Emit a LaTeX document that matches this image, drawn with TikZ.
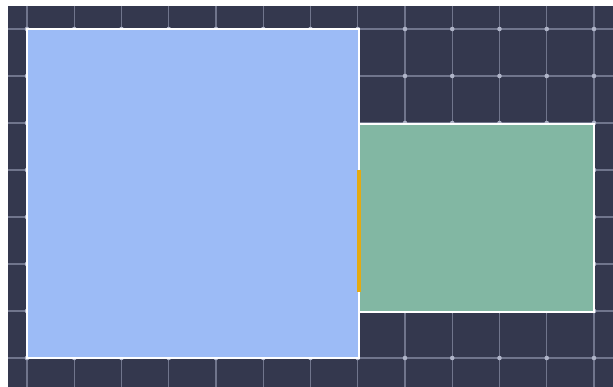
\documentclass[tikz,border=0pt]{standalone}
\begin{document}
\begin{tikzpicture}[x=1pt,y=-1pt,
  bg/.style={fill=white},
  floor/.style={fill={rgb,255:red,52;green,56;blue,78}},
  gridline/.style={draw={rgb,255:red,112;green,117;blue,140},line width=1.3pt},
  griddot/.style={fill={rgb,255:red,175;green,180;blue,200}},
  room/.style={draw=white,line width=2.6pt,inner sep=0pt,outer sep=0pt,rectangle},
  bluer/.style={room,fill={rgb,255:red,156;green,187;blue,246}},
  greenr/.style={room,fill={rgb,255:red,130;green,183;blue,163}},
  door/.style={draw={rgb,255:red,228;green,170;blue,18},line width=4.5pt}]
\useasboundingbox (0,0) rectangle (613,387);
\fill[bg] (0,0) rectangle (613,387);
\fill[floor] (8,6) rectangle (613,387);
\foreach \i in {0,...,12}{
  \draw[gridline] ({27+47.25*\i},6) -- ({27+47.25*\i},387);
}
\foreach \j in {0,...,7}{
  \draw[gridline] (8,{29+47*\j}) -- (613,{29+47*\j});
}
\foreach \i in {0,...,12}{
  \foreach \j in {0,...,7}{
    \fill[griddot] ({27+47.25*\i},{29+47*\j}) circle (2.3pt);
  }
}
\node[bluer,minimum width=332pt,minimum height=329pt] (A) at (193,193.5) {};
\node[greenr,minimum width=235pt,minimum height=188pt] (B) at (476.5,218) {};
\coordinate (d1) at (359,170);
\coordinate (d2) at (359,292);
\draw[door] (d1) -- (d2);
\end{tikzpicture}
\end{document}
